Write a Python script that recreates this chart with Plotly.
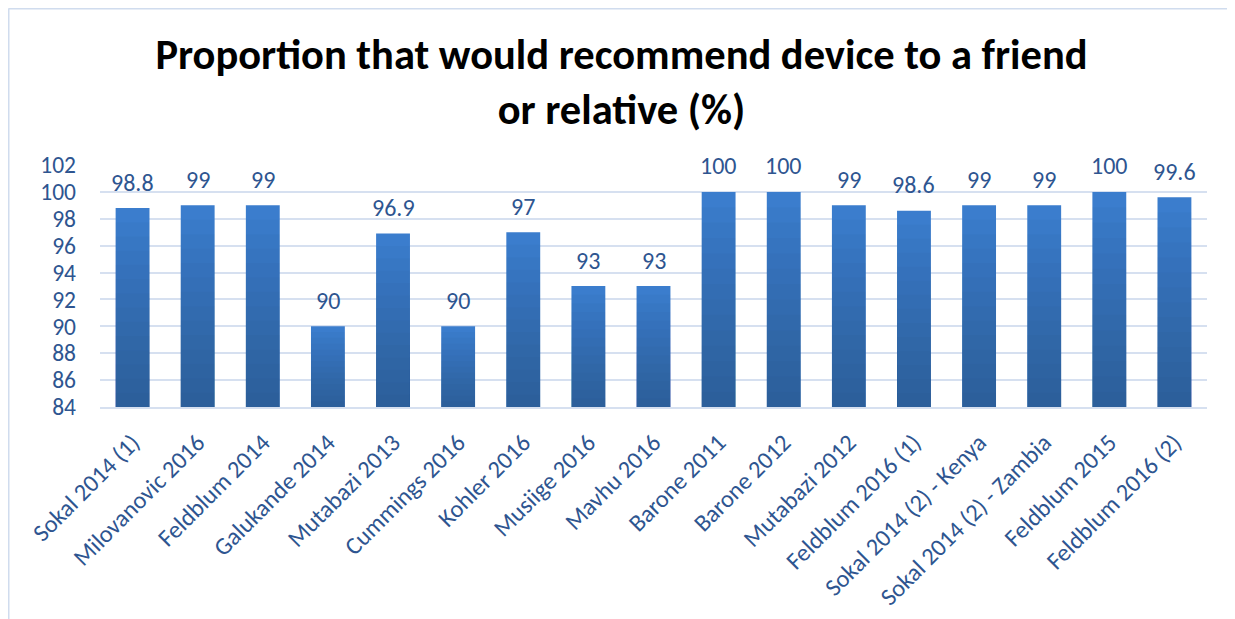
import plotly.graph_objects as go

categories = ["Sokal 2014 (1)", "Milovanovic 2016", "Feldblum 2014", "Galukande 2014",
              "Mutabazi 2013", "Cummings 2016", "Kohler 2016", "Musiige 2016", "Mavhu 2016",
              "Barone 2011", "Barone 2012", "Mutabazi 2012", "Feldblum 2016 (1)",
              "Sokal 2014 (2) - Kenya", "Sokal 2014 (2) - Zambia", "Feldblum 2015",
              "Feldblum 2016 (2)"]
values = [98.8, 99, 99, 90, 96.9, 90, 97, 93, 93, 100, 100, 99, 98.6, 99, 99, 100, 99.6]
value_labels = ["98.8", "99", "99", "90", "96.9", "90", "97", "93", "93", "100", "100",
                "99", "98.6", "99", "99", "100", "99.6"]
axis_min = 84
axis_max = 102

FONT = "Calibri, Carlito, Lato, sans-serif"
TEXT_BLUE = "#2E5590"
GRID = "#D6E0F0"

W, H = 1227, 611
ML, MR, MT, MB = 92, 28, 157, 212
PW, PH = W - ML - MR, H - MT - MB

fig = go.Figure()
heights = [v - axis_min for v in values]
fig.add_trace(go.Bar(x=categories, y=heights, base=axis_min, width=0.52,
                     marker=dict(color="#3B7DCD", line=dict(width=0)),
                     hoverinfo="skip", showlegend=False))
N = 14
for k in range(1, N):
    frac = k / N
    fig.add_trace(go.Bar(x=categories, y=[h * frac for h in heights], base=axis_min,
                         width=0.52,
                         marker=dict(color="rgba(20,45,90,0.037)", line=dict(width=0)),
                         hoverinfo="skip", showlegend=False))

for c, v, t in zip(categories, values, value_labels):
    fig.add_annotation(x=c, y=v, text=t, showarrow=False, yanchor="middle", yshift=26,
                       font=dict(family=FONT, size=24, color=TEXT_BLUE))

fig.update_layout(
    width=W, height=H,
    barmode="overlay",
    paper_bgcolor="white", plot_bgcolor="white",
    margin=dict(l=ML, r=MR, t=MT, b=MB, autoexpand=False),
    title=dict(text="<b>Proportion that would recommend device to a friend<br>or relative (%)</b>",
               x=0.5, xanchor="center", y=1 - 60.5 / H, yanchor="middle", yref="container",
               font=dict(family=FONT, size=42.5, color="black")),
    font=dict(family=FONT, color=TEXT_BLUE),
)
fig.update_yaxes(range=[axis_min, axis_max], dtick=2, tick0=axis_min, showgrid=True,
                 gridcolor=GRID, gridwidth=1.5, zeroline=False, ticks="",
                 ticklabelstandoff=23,
                 tickfont=dict(family=FONT, size=23.5, color=TEXT_BLUE))
fig.update_xaxes(tickangle=-45, showline=True, linecolor=GRID, linewidth=1.5,
                 ticks="", ticklabelstandoff=10,
                 tickfont=dict(family=FONT, size=24.3, color=TEXT_BLUE))

# chart frame (top and left edges)
top_y = (H - MB - 0.5) / PH
left_x = (0.5 - ML) / PW
fig.add_shape(type="line", xref="paper", yref="paper",
              x0=left_x, x1=(W - ML) / PW, y0=top_y, y1=top_y,
              line=dict(color="#D0DCEE", width=2))
fig.add_shape(type="line", xref="paper", yref="paper",
              x0=left_x, x1=left_x, y0=top_y, y1=-MB / PH,
              line=dict(color="#D0DCEE", width=2))

fig.write_html("out.html")
